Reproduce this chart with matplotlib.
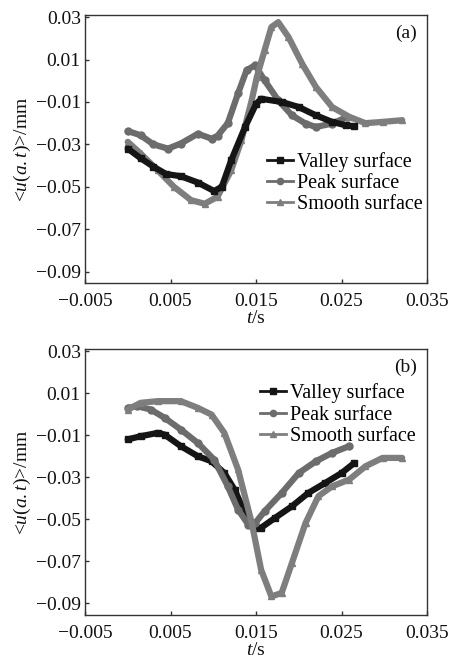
import matplotlib
matplotlib.use("Agg")
import matplotlib.pyplot as plt
from matplotlib.lines import Line2D

plt.rcParams['font.family'] = ['Liberation Serif', 'DejaVu Serif']
plt.rcParams['mathtext.fontset'] = 'custom'
plt.rcParams['mathtext.rm'] = 'Liberation Serif'
plt.rcParams['mathtext.it'] = 'Liberation Serif:italic'

# ---- panel (a) data ----
a_valley_t = [0.0, 0.0015, 0.003, 0.0045, 0.0062, 0.0082, 0.0101, 0.0110, 0.0121, 0.0137,
              0.0150, 0.0156, 0.0180, 0.0200, 0.0220, 0.0239, 0.0255, 0.0265]
a_valley_u = [-0.032, -0.0365, -0.0405, -0.0440, -0.0450, -0.0480, -0.0520, -0.0500, -0.0375, -0.0220,
              -0.0110, -0.0085, -0.0100, -0.0124, -0.0163, -0.0194, -0.0210, -0.0215]

a_peak_t = [0.0, 0.0015, 0.003, 0.0047, 0.0062, 0.0082, 0.0098, 0.0105, 0.0117, 0.0129,
            0.0139, 0.0149, 0.0160, 0.0176, 0.0192, 0.0208, 0.0220, 0.0239, 0.0257]
a_peak_u = [-0.0237, -0.0257, -0.0300, -0.0320, -0.0296, -0.0250, -0.0273, -0.0260, -0.0200, -0.0060,
            0.0050, 0.0073, 0.0002, -0.0092, -0.0163, -0.0202, -0.0218, -0.0202, -0.0170]

a_smooth_t = [0.0, 0.0015, 0.0035, 0.0054, 0.0074, 0.0090, 0.0105, 0.0121, 0.0133, 0.0145,
              0.0151, 0.0160, 0.0168, 0.0176, 0.0188, 0.0204, 0.0220, 0.0239, 0.0259, 0.0278,
              0.0298, 0.0321]
a_smooth_u = [-0.0288, -0.0343, -0.0422, -0.0500, -0.0563, -0.0580, -0.0547, -0.0422, -0.0280, -0.0092,
              0.0018, 0.0143, 0.0253, 0.0276, 0.0206, 0.0080, -0.0029, -0.0124, -0.0170, -0.0200,
              -0.0194, -0.0186]

# ---- panel (b) data ----
b_valley_t = [0.0, 0.0015, 0.0035, 0.0043, 0.0062, 0.0082, 0.0098, 0.0113, 0.0125, 0.0137,
              0.0149, 0.0156, 0.0172, 0.0192, 0.0211, 0.0231, 0.0250, 0.0265]
b_valley_u = [-0.0120, -0.0105, -0.0089, -0.0097, -0.0152, -0.0200, -0.0224, -0.0280, -0.0359, -0.0470,
              -0.0541, -0.0540, -0.0494, -0.0438, -0.0375, -0.0327, -0.0280, -0.0232]

b_peak_t = [0.0, 0.0011, 0.0027, 0.0043, 0.0062, 0.0082, 0.0101, 0.0117, 0.0129, 0.0141,
            0.0149, 0.0160, 0.0180, 0.0200, 0.0220, 0.0239, 0.0259]
b_peak_u = [0.0030, 0.0038, 0.0022, -0.0017, -0.0073, -0.0137, -0.0216, -0.0343, -0.0454, -0.0525,
            -0.0518, -0.0462, -0.0375, -0.0280, -0.0224, -0.0184, -0.0152]

b_smooth_t = [0.0, 0.0015, 0.0035, 0.0062, 0.0082, 0.0098, 0.0113, 0.0129, 0.0145, 0.0156,
              0.0168, 0.0180, 0.0192, 0.0208, 0.0223, 0.0239, 0.0259, 0.0278, 0.0298, 0.0321]
b_smooth_u = [0.0022, 0.0054, 0.0062, 0.0062, 0.0030, -0.0002, -0.0089, -0.0263, -0.0517, -0.0740,
              -0.0867, -0.0850, -0.0708, -0.0517, -0.0390, -0.0343, -0.0311, -0.0248, -0.0208, -0.0208]

series_names = ['Valley surface', 'Peak surface', 'Smooth surface']
x_ticks = [-0.005, 0.005, 0.015, 0.025, 0.035]
x_ticklabels = ['\u22120.005', '0.005', '0.015', '0.025', '0.035']
y_ticks = [0.03, 0.01, -0.01, -0.03, -0.05, -0.07, -0.09]
y_ticklabels = ['0.03', '0.01', '\u22120.01', '\u22120.03', '\u22120.05', '\u22120.07', '\u22120.09']
panel_labels = ['(a)', '(b)']

colors = ['#151515', '#6c6c6c', '#7e7e7e']
markers = ['s', 'o', '^']

W, H = 454, 662
fig = plt.figure(figsize=(W / 100, H / 100), dpi=100)

def fx(px):
    return px / W

def fy_rect(top, bottom):
    return 1 - bottom / H, (bottom - top) / H

b1, h1 = fy_rect(15, 283.3)
b2, h2 = fy_rect(349, 615)
ax1 = fig.add_axes([fx(85), b1, fx(427 - 85), h1])
ax2 = fig.add_axes([fx(85), b2, fx(427 - 85), h2])

panels = [
    (ax1, [(a_valley_t, a_valley_u), (a_peak_t, a_peak_u), (a_smooth_t, a_smooth_u)], (0.532, 0.49), 0.933),
    (ax2, [(b_valley_t, b_valley_u), (b_peak_t, b_peak_u), (b_smooth_t, b_smooth_u)], (0.512, 0.87), 0.93),
]

for i, (ax, data, leg_anchor, lab_y) in enumerate(panels):
    order = [1, 2, 0] if i == 0 else [0, 1, 2]
    for k in order:
        t, u = data[k]
        ax.plot(t, u, color=colors[k], lw=4.5, marker=markers[k], ms=5,
                mec=colors[k], mfc=colors[k], solid_capstyle='round', solid_joinstyle='round')
    ax.set_xlim(-0.005, 0.035)
    ax.set_ylim(-0.0955, 0.031)
    ax.set_xticks(x_ticks)
    ax.set_xticklabels(x_ticklabels)
    ax.set_yticks(y_ticks)
    ax.set_yticklabels(y_ticklabels)
    ax.tick_params(direction='in', length=3, width=1, colors='#333333', labelcolor='#111111',
                   labelsize=14)
    ax.tick_params(axis='x', pad=7)
    ax.tick_params(axis='y', pad=3)
    for s in ax.spines.values():
        s.set_color('#333333')
        s.set_linewidth(1.0)
    ax.set_xlabel(r'$t$/s', fontsize=14, labelpad=0, color='#111111')
    ax.set_ylabel(r'<$u$($a.t$)>/mm', fontsize=14, labelpad=2, color='#111111')
    ax.text(0.97, lab_y, panel_labels[i], transform=ax.transAxes,
            ha='right', va='center', fontsize=14, color='#111111')
    handles = [Line2D([], [], color=colors[k], lw=2, marker=markers[k], ms=4.5) for k in range(3)]
    ax.legend(handles, series_names, loc='upper left', bbox_to_anchor=leg_anchor,
              frameon=False, fontsize=14.5, handlelength=1.3, handletextpad=0.2,
              labelspacing=0.1, borderpad=0, borderaxespad=0)

fig.savefig('out.png', dpi=100)
